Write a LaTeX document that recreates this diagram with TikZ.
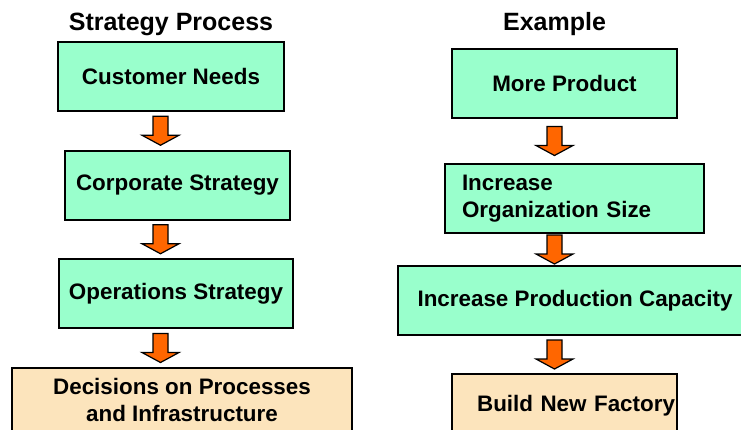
\documentclass[tikz,border=0pt]{standalone}
\usepackage{fontspec}
\setmainfont{Liberation Sans}
\usepackage{tikz}
\usetikzlibrary{calc}

\definecolor{boxgreen}{HTML}{99FFCC}
\definecolor{boxtan}{HTML}{FCE4BC}
\definecolor{arroworange}{HTML}{FF6600}

\tikzset{
  stepbox/.style={draw, line width=2pt, fill=boxgreen, inner sep=0pt, minimum height=69pt, align=center, font=\bfseries\fontsize{22.4}{27}\selectfont},
  endbox/.style={stepbox, fill=boxtan},
  heading/.style={anchor=base, font=\bfseries\fontsize{25}{30}\selectfont},
  pics/flowarrow/.style={code={
    \draw[fill=arroworange, line width=1.2pt] (-7.5,-14.5) -- (7.5,-14.5) -- (7.5,4.5) -- (18.5,4.5) -- (0,14.5) -- (-18.5,4.5) -- (-7.5,4.5) -- cycle;
  }}
}

\begin{document}
\begin{tikzpicture}[x=1pt, y=-1pt]
	\useasboundingbox (0,0) rectangle (741,429);
	% strategy process
	\node[heading] (lhead) at (171,30) {Strategy Process};
	\node[stepbox, minimum width=226pt] (cust) at (171,76.5) {Customer Needs};
	\node[stepbox, minimum width=225pt] (corp) at (177.5,185) {Corporate Strategy};
	\node[stepbox, minimum width=234pt] (ops) at (176,293.5) {Operations Strategy};
	\node[endbox, minimum width=340pt, minimum height=64pt] (dec) at (182,400) {Decisions on Processes\\and Infrastructure};
	\coordinate (laxis) at (160.5,0);
	\pic at ($(cust.south -| laxis)!.5!(corp.north -| laxis)$) {flowarrow};
	\pic at ($(corp.south -| laxis)!.5!(ops.north -| laxis)$) {flowarrow};
	\pic at ($(ops.south -| laxis)!.5!(dec.north -| laxis)$) {flowarrow};
	% example
	\node[heading] (rhead) at (554.5,30) {Example};
	\node[stepbox, minimum width=225pt] (more) at (564.5,83.5) {More Product};
	\node[stepbox, minimum width=259pt, text width=225pt, align=left] (size) at (574.5,198.5) {Increase\\Organization Size};
	\node[stepbox, minimum width=354pt] (capa) at (575,300.5) {Increase Production Capacity};
	\node[endbox, minimum width=225pt, minimum height=64pt, text width=221pt, align=right] (fact) at (564.5,406) {Build New Factory};
	\coordinate (raxis) at (554.5,0);
	\pic at ($(more.south -| raxis)!.5!(size.north -| raxis)$) {flowarrow};
	\pic at ($(size.south -| raxis)!.5!(capa.north -| raxis)$) {flowarrow};
	\pic at ($(capa.south -| raxis)!.5!(fact.north -| raxis)$) {flowarrow};
\end{tikzpicture}
\end{document}
